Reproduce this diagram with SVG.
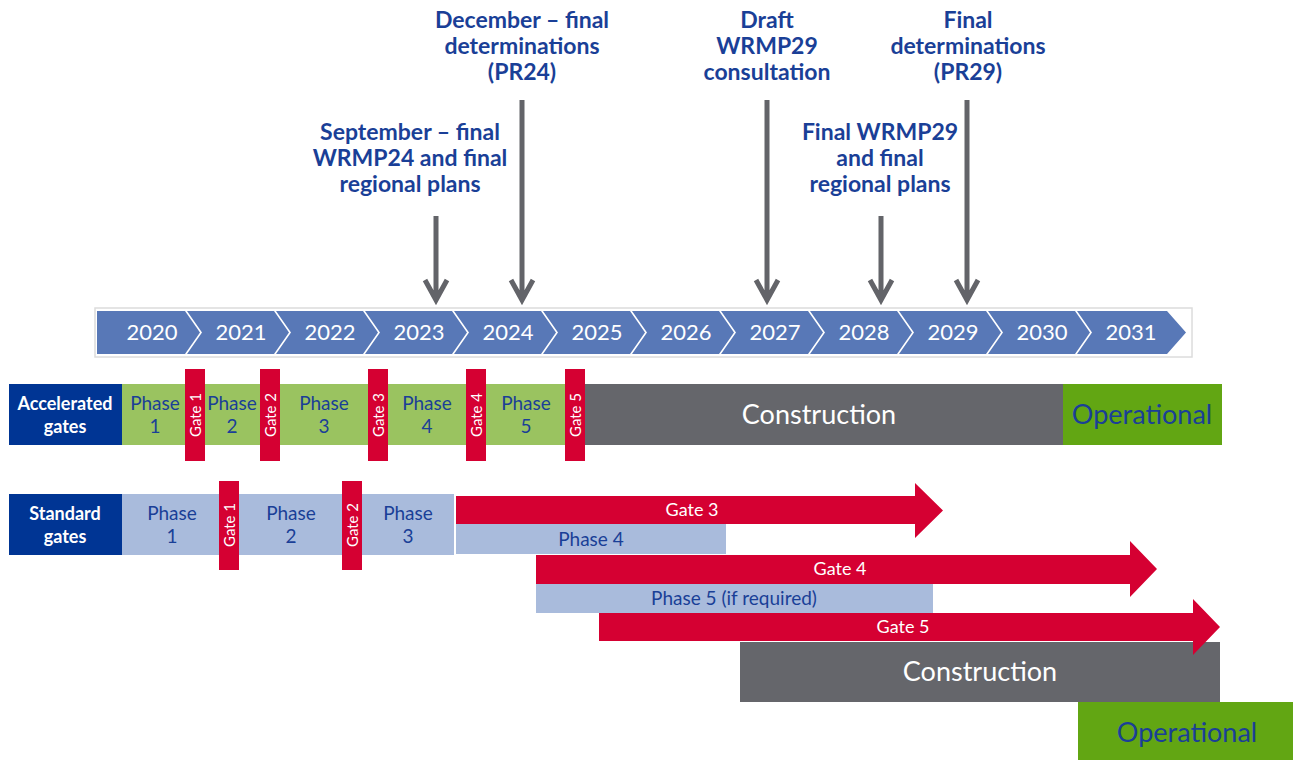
<svg xmlns="http://www.w3.org/2000/svg" width="1293" height="760" viewBox="0 0 1293 760">
<style>
.yr{font-family:Lato,"Liberation Sans",sans-serif;font-size:22px;fill:#fff;text-anchor:middle}
.lbl{font-family:Lato,"Liberation Sans",sans-serif;font-weight:bold;font-size:23px;fill:#1a3f97;text-anchor:middle}
.ph{font-family:Lato,"Liberation Sans",sans-serif;font-size:19px;fill:#1a3f97;text-anchor:middle}
.wh{font-family:Lato,"Liberation Sans",sans-serif;font-size:18px;fill:#fff;text-anchor:middle}
.hd{font-family:Lato,"Liberation Sans",sans-serif;font-weight:bold;font-size:18px;fill:#fff;text-anchor:middle}
.big{font-family:Lato,"Liberation Sans",sans-serif;font-size:27px;text-anchor:middle}
.gt{font-family:Lato,"Liberation Sans",sans-serif;font-size:15px;fill:#fff;text-anchor:middle}
.gate{fill:#d50032}
.chev{fill:#5878b7}
.arr{stroke:#636469;stroke-width:5;fill:none}
</style>
<rect width="1293" height="760" fill="#fff"/>

<g id="timeline">
<rect x="95" y="308" width="1097" height="49" fill="#fff" stroke="#dcdcdc" stroke-width="1.5"/>
<polygon class="chev" points="97,311 185,311 200,332.5 185,354 97,354"/>
<polygon class="chev" points="187,311 274,311 289,332.5 274,354 187,354 202,332.5"/>
<polygon class="chev" points="276,311 363,311 378,332.5 363,354 276,354 291,332.5"/>
<polygon class="chev" points="365,311 452,311 467,332.5 452,354 365,354 380,332.5"/>
<polygon class="chev" points="454,311 541,311 556,332.5 541,354 454,354 469,332.5"/>
<polygon class="chev" points="543,311 630,311 645,332.5 630,354 543,354 558,332.5"/>
<polygon class="chev" points="632,311 719,311 734,332.5 719,354 632,354 647,332.5"/>
<polygon class="chev" points="721,311 808,311 823,332.5 808,354 721,354 736,332.5"/>
<polygon class="chev" points="810,311 897,311 912,332.5 897,354 810,354 825,332.5"/>
<polygon class="chev" points="899,311 986,311 1001,332.5 986,354 899,354 914,332.5"/>
<polygon class="chev" points="988,311 1075,311 1090,332.5 1075,354 988,354 1003,332.5"/>
<polygon class="chev" points="1077,311 1167,311 1186,332.5 1167,354 1077,354 1092,332.5"/>
<text class="yr" x="152" y="340">2020</text>
<text class="yr" x="241" y="340">2021</text>
<text class="yr" x="330" y="340">2022</text>
<text class="yr" x="419" y="340">2023</text>
<text class="yr" x="508" y="340">2024</text>
<text class="yr" x="597" y="340">2025</text>
<text class="yr" x="686" y="340">2026</text>
<text class="yr" x="775" y="340">2027</text>
<text class="yr" x="864" y="340">2028</text>
<text class="yr" x="953" y="340">2029</text>
<text class="yr" x="1042" y="340">2030</text>
<text class="yr" x="1131" y="340">2031</text>
</g>

<g id="connectors">
<path class="arr" d="M436,216 V300 M425,280 L436,300 L447,280"/>
<path class="arr" d="M522,100 V300 M511,280 L522,300 L533,280"/>
<path class="arr" d="M767,100 V300 M756,280 L767,300 L778,280"/>
<path class="arr" d="M881,216 V300 M870,280 L881,300 L892,280"/>
<path class="arr" d="M967,100 V300 M956,280 L967,300 L978,280"/>
</g>

<g id="label-sep">
<text class="lbl" x="410" y="140">September – final</text>
<text class="lbl" x="410" y="166">WRMP24 and final</text>
<text class="lbl" x="410" y="192">regional plans</text>
</g>
<g id="label-dec">
<text class="lbl" x="522" y="28">December – final</text>
<text class="lbl" x="522" y="54">determinations</text>
<text class="lbl" x="522" y="80">(PR24)</text>
</g>
<g id="label-draft">
<text class="lbl" x="767" y="28">Draft</text>
<text class="lbl" x="767" y="54">WRMP29</text>
<text class="lbl" x="767" y="80">consultation</text>
</g>
<g id="label-fwrmp29">
<text class="lbl" x="880" y="140">Final WRMP29</text>
<text class="lbl" x="880" y="166">and final</text>
<text class="lbl" x="880" y="192">regional plans</text>
</g>
<g id="label-pr29">
<text class="lbl" x="968" y="28">Final</text>
<text class="lbl" x="968" y="54">determinations</text>
<text class="lbl" x="968" y="80">(PR29)</text>
</g>

<g id="accelerated">
<rect x="9" y="384" width="113" height="61" fill="#003594"/>
<text class="hd" x="65" y="410">Accelerated</text>
<text class="hd" x="65" y="433">gates</text>
<rect x="122" y="384" width="463" height="61" fill="#9ac360"/>
<rect x="585" y="384" width="478" height="61" fill="#65666b"/>
<rect x="1063" y="384" width="159" height="61" fill="#62a613"/>
<text class="ph" x="155" y="410">Phase</text><text class="ph" x="155" y="433">1</text>
<text class="ph" x="232" y="410">Phase</text><text class="ph" x="232" y="433">2</text>
<text class="ph" x="324" y="410">Phase</text><text class="ph" x="324" y="433">3</text>
<text class="ph" x="427" y="410">Phase</text><text class="ph" x="427" y="433">4</text>
<text class="ph" x="526" y="410">Phase</text><text class="ph" x="526" y="433">5</text>
<text class="big" x="819" y="424" fill="#fff">Construction</text>
<text class="big" x="1142" y="424" fill="#1a3f97">Operational</text>
<rect class="gate" x="185" y="369" width="20" height="92"/>
<rect class="gate" x="260" y="369" width="20" height="92"/>
<rect class="gate" x="368" y="369" width="20" height="92"/>
<rect class="gate" x="466" y="369" width="20" height="92"/>
<rect class="gate" x="565" y="369" width="20" height="92"/>
<text class="gt" transform="translate(200.5,415) rotate(-90)">Gate 1</text>
<text class="gt" transform="translate(275.5,415) rotate(-90)">Gate 2</text>
<text class="gt" transform="translate(383.5,415) rotate(-90)">Gate 3</text>
<text class="gt" transform="translate(481.5,415) rotate(-90)">Gate 4</text>
<text class="gt" transform="translate(580.5,415) rotate(-90)">Gate 5</text>
</g>

<g id="standard">
<rect x="9" y="494" width="113" height="61" fill="#003594"/>
<text class="hd" x="65" y="520">Standard</text>
<text class="hd" x="65" y="543">gates</text>
<rect x="122" y="494" width="332" height="61" fill="#a9bbdc"/>
<text class="ph" x="172" y="520">Phase</text><text class="ph" x="172" y="543">1</text>
<text class="ph" x="291" y="520">Phase</text><text class="ph" x="291" y="543">2</text>
<text class="ph" x="408" y="520">Phase</text><text class="ph" x="408" y="543">3</text>
<rect class="gate" x="219" y="481" width="20" height="89"/>
<rect class="gate" x="342" y="481" width="20" height="89"/>
<text class="gt" transform="translate(234.5,525) rotate(-90)">Gate 1</text>
<text class="gt" transform="translate(357.5,525) rotate(-90)">Gate 2</text>
</g>

<g id="phase4">
<rect x="456" y="524" width="270" height="30" fill="#a9bbdc"/>
<text class="ph" x="591" y="546">Phase 4</text>
</g>
<g id="gate3">
<polygon class="gate" points="456,496 915,496 915,483 943,510.5 915,538 915,524 456,524"/>
<text class="wh" x="692" y="516">Gate 3</text>
</g>
<g id="phase5">
<rect x="536" y="584" width="397" height="29" fill="#a9bbdc"/>
<text class="ph" x="734" y="605">Phase 5 (if required)</text>
</g>
<g id="gate4">
<polygon class="gate" points="536,555 1130,555 1130,541 1157,569 1130,597 1130,584 536,584"/>
<text class="wh" x="840" y="575">Gate 4</text>
</g>
<g id="construction2">
<rect x="740" y="642" width="480" height="60" fill="#65666b"/>
<text class="big" x="980" y="681" fill="#fff">Construction</text>
</g>
<g id="gate5">
<polygon class="gate" points="599,613 1193,613 1193,599 1220,627 1193,655 1193,641 599,641"/>
<text class="wh" x="903" y="633">Gate 5</text>
</g>
<g id="operational2">
<rect x="1078" y="702" width="215" height="58" fill="#62a613"/>
<text class="big" x="1187" y="742" fill="#1a3f97">Operational</text>
</g>
</svg>
